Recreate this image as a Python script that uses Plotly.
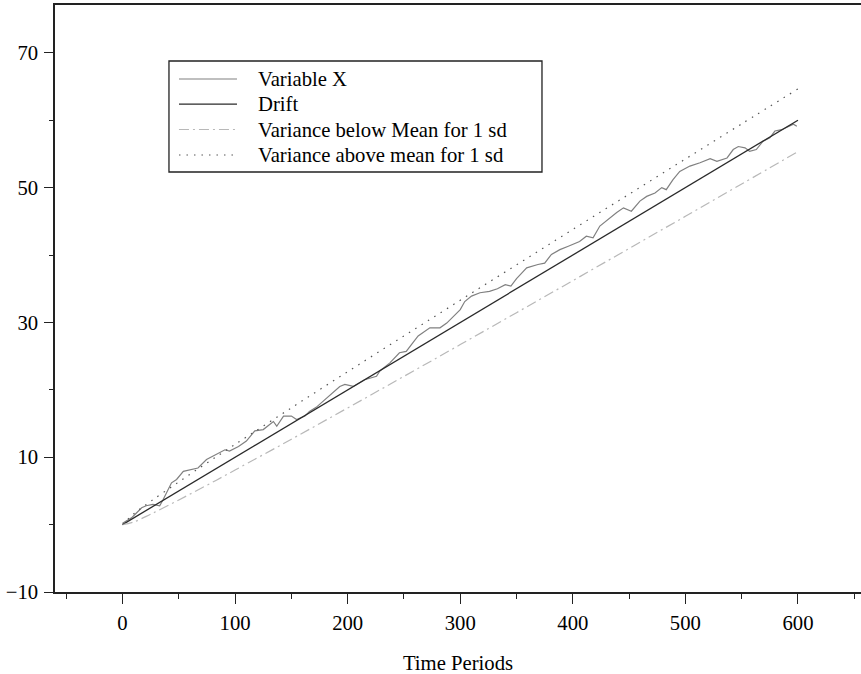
import plotly.graph_objects as go

# ---- data ----
var_x_t = [0, 8, 11, 17, 21, 27, 33, 36, 43.5, 48, 54, 61, 67, 74.6, 83.5, 91, 95, 103, 110, 117.5,
           125, 134, 137, 143, 150, 154.6, 162, 166, 172, 178, 184, 193, 197.5, 205, 215, 225.6, 228.6,
           237.5, 246, 252, 258, 262.6, 273, 282, 288, 294, 300, 304, 310, 317.5, 326, 333, 340, 345,
           350, 355, 359, 369, 375, 381, 388.5, 396, 403, 406, 412, 418, 424, 431, 439, 445, 452,
           459.6, 465.6, 473, 479, 483, 489, 495, 504, 513, 522, 528, 537, 542.5, 547, 553, 557, 563,
           569, 575, 579.5, 585.5, 591, 596, 599]
var_x_v = [0.2, 1.0, 1.5, 2.5, 2.8, 3.0, 2.8, 3.7, 6.2, 6.7, 7.9, 8.2, 8.4, 9.65, 10.4, 11.1, 10.9, 11.6,
           12.4, 13.9, 14.1, 15.3, 14.6, 16.1, 16.1, 15.6, 16.1, 16.8, 17.4, 18.3, 19.05, 20.5, 20.8, 20.5,
           21.5, 22.0, 22.8, 24.0, 25.5, 25.7, 27.0, 28.0, 29.2, 29.2, 29.9, 30.9, 31.9, 33.1, 33.9, 34.4,
           34.6, 35.0, 35.6, 35.4, 36.5, 37.4, 38.1, 38.6, 38.8, 40.1, 40.8, 41.3, 41.8, 42.0, 42.8,
           42.55, 44.3, 45.3, 46.3, 47.0, 46.5, 48.0, 48.7, 49.2, 50.0, 49.7, 51.2, 52.4, 53.2, 53.7,
           54.3, 53.9, 54.4, 55.65, 56.1, 55.9, 55.4, 55.65, 56.9, 57.4, 58.4, 58.6, 59.0, 59.4, 59.1]

drift_t = [0, 600]
drift_v = [0, 60]

band_t = [0, 10, 25, 50, 75, 100, 150, 200, 250, 300, 350, 400, 450, 500, 550, 600]
upper_v = [0, 1.6, 3.45, 6.34, 9.15, 11.9, 17.33, 22.69, 28.0, 33.29, 38.55, 43.8, 49.03, 54.25,
           59.46, 64.65]
lower_v = [0, 0.4, 1.55, 3.66, 5.85, 8.1, 12.67, 17.31, 22.0, 26.71, 31.45, 36.2, 40.97, 45.75,
           50.54, 55.35]

x_ticks = [0, 100, 200, 300, 400, 500, 600]
y_ticks = [-10, 10, 30, 50, 70]
y_tick_text = ["\u221210", "10", "30", "50", "70"]

series_names = ["Variable X", "Drift", "Variance below Mean for 1 sd", "Variance above mean for 1 sd"]
series_colors = ["#808080", "#2a2a2a", "#b8b8b8", "#555555"]
series_dash = ["solid", "solid", "10px,4px,2px,4px", "1.5px,6px"]
series_width = [1.2, 1.3, 1.2, 1.2]

FONT = "Liberation Serif, Times New Roman, serif"
FS = 20.7

fig = go.Figure()
fig.add_trace(go.Scatter(x=var_x_t, y=var_x_v, mode="lines", name=series_names[0],
                         line=dict(color=series_colors[0], width=series_width[0])))
fig.add_trace(go.Scatter(x=drift_t, y=drift_v, mode="lines", name=series_names[1],
                         line=dict(color=series_colors[1], width=series_width[1])))
fig.add_trace(go.Scatter(x=band_t, y=lower_v, mode="lines", name=series_names[2],
                         line=dict(color=series_colors[2], width=series_width[2], dash=series_dash[2]),
                         line_shape="spline"))
fig.add_trace(go.Scatter(x=band_t, y=upper_v, mode="lines", name=series_names[3],
                         line=dict(color=series_colors[3], width=series_width[3], dash=series_dash[3]),
                         line_shape="spline"))

# ---- legend drawn in paper coordinates ----
shapes = [dict(type="rect", xref="paper", yref="paper", x0=0.1414, x1=0.6042, y0=0.7155, y1=0.9046,
               line=dict(color="#222222", width=1.3), fillcolor="white", layer="above")]
annotations = []
row_y = [0.8739, 0.8313, 0.7879, 0.7445]
for name, col, dsh, w, yy in zip(series_names, series_colors, series_dash, series_width, row_y):
    shapes.append(dict(type="line", xref="paper", yref="paper", x0=0.1538, x1=0.2258, y0=yy, y1=yy,
                       line=dict(color=col, width=w, dash=dsh), layer="above"))
    annotations.append(dict(xref="paper", yref="paper", x=0.2494, y=yy, xanchor="left",
                            yanchor="middle", text=name, showarrow=False,
                            font=dict(family=FONT, size=FS, color="black")))

fig.update_layout(
    width=861, height=674,
    margin=dict(l=55, r=0, t=5, b=82),
    paper_bgcolor="white", plot_bgcolor="white",
    font=dict(family=FONT, size=FS, color="black"),
    showlegend=False,
    shapes=shapes, annotations=annotations,
    xaxis=dict(range=[-60, 656], tickmode="array", tickvals=x_ticks,
               ticktext=[str(v) for v in x_ticks],
               showgrid=False, zeroline=False, showline=True, linecolor="#222222", linewidth=1.5,
               mirror=True, ticks="outside", ticklen=10, tickwidth=1.2, tickcolor="#222222",
               minor=dict(ticks="outside", ticklen=5, tickwidth=1.2, tickcolor="#222222",
                          tickvals=[-50, 50, 150, 250, 350, 450, 550, 650]),
               ticklabelstandoff=1,
               title=dict(text="Time Periods", standoff=25, font=dict(size=FS))),
    yaxis=dict(range=[-10, 77.1], tickmode="array", tickvals=y_ticks, ticktext=y_tick_text,
               showgrid=False, zeroline=False, showline=True, linecolor="#222222", linewidth=1.5,
               ticks="outside", ticklen=9, tickwidth=1.2, tickcolor="#222222",
               minor=dict(ticks="outside", ticklen=4, tickwidth=1.2, tickcolor="#222222",
                          tickvals=[0, 20, 40, 60]),
               ticklabelstandoff=2),
)

fig.write_html("out.html", config={"displayModeBar": False},
               post_script="document.body.style.margin='0px';")
